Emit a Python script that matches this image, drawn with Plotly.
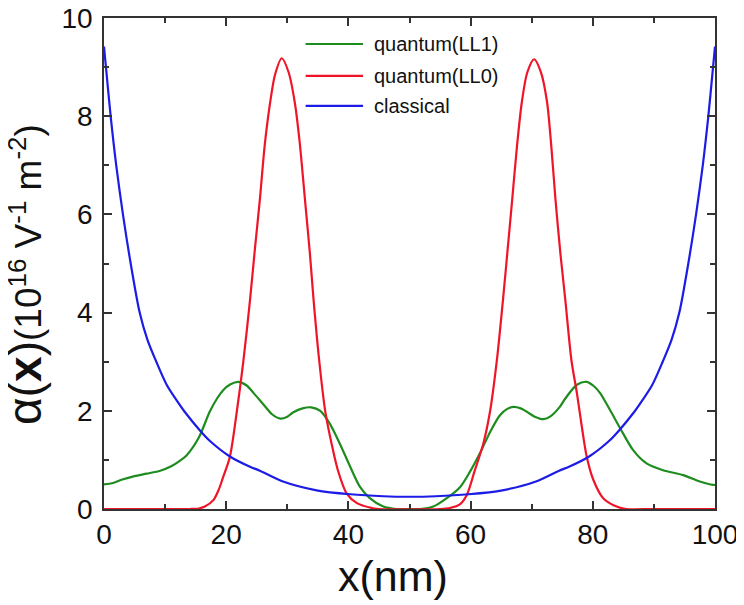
import plotly.graph_objects as go

# ---------------- data ----------------
series_names = ["quantum(LL1)", "quantum(LL0)", "classical"]
series_colors = ["#1f8c1f", "#f01428", "#1c1ce6"]

x_ll1 = [0, 1.5, 3, 5, 7, 9.2, 11, 12.4, 13.5, 15.5, 17.3, 18.5, 19.5, 20.7, 22.0,
         23.3, 24.5, 26.1, 27.5, 28.9, 30.0, 31.0, 32.5, 33.9, 35.4, 37.0, 38.6,
         40.3, 41.9, 43.5, 45.7, 47.9, 50, 51.7, 53.9, 56.1, 58.3, 59.9, 61.5,
         63.2, 64.8, 66.0, 67.0, 68.2, 69.2, 70.5, 71.9, 73.0, 74.6, 75.5, 77.4,
         79.0, 80.2, 81.2, 82.8, 84.5, 86.6, 88.8, 91.5, 94.8, 97.5, 99.7, 100]
y_ll1 = [0.50, 0.53, 0.60, 0.67, 0.72, 0.78, 0.87, 0.98, 1.09, 1.45, 1.98, 2.25, 2.42,
         2.54, 2.59, 2.52, 2.36, 2.13, 1.93, 1.84, 1.88, 1.97, 2.05, 2.07, 2.00, 1.73,
         1.33, 0.86, 0.45, 0.22, 0.05, 0.0, 0.0, 0.0, 0.05, 0.22, 0.45, 0.76, 1.13,
         1.57, 1.91, 2.04, 2.08, 2.05, 1.98, 1.88, 1.83, 1.88, 2.08, 2.25, 2.53,
         2.59, 2.50, 2.36, 2.02, 1.64, 1.20, 0.93, 0.79, 0.69, 0.56, 0.49, 0.49]

x_ll0 = [0, 10, 14, 15.5, 16.5, 17.9, 18.8, 19.5, 20.6, 21.7, 22.8, 23.9, 24.7, 25.5,
         26.3, 27.1, 28.0, 29.1, 30.2, 31.2, 32.0, 32.9, 33.7, 34.3, 35.2, 36.2,
         37.3, 38.3, 39.7, 41.4, 43.5, 45, 55, 56.6, 58.3, 59.4, 60.7, 62.1, 63.2,
         64.3, 65.3, 66.0, 66.8, 67.6, 68.4, 69.3, 70.4, 71.5, 72.5, 73.2, 73.9,
         74.7, 75.5, 76.5, 77.4, 78.2, 79.0, 80.1, 81.7, 83.9, 85.5, 90, 100]
y_ll0 = [0, 0, 0, 0.01, 0.05, 0.18, 0.40, 0.65, 1.06, 1.95, 3.00, 4.26, 5.30, 6.29,
         7.40, 8.20, 8.85, 9.18, 8.90, 8.30, 7.50, 6.29, 5.20, 4.26, 3.05, 2.00,
         1.30, 0.78, 0.32, 0.12, 0.03, 0, 0, 0.02, 0.10, 0.29, 0.79, 1.34, 2.00,
         3.03, 4.26, 5.20, 6.29, 7.40, 8.30, 8.90, 9.16, 8.90, 8.30, 7.40, 6.29,
         5.20, 4.26, 3.03, 2.36, 1.68, 1.07, 0.59, 0.22, 0.05, 0, 0, 0]

x_cl = [0, 0.38, 1.09, 2.0, 3.1, 4.37, 5.84, 7.1, 8.56, 10.3, 12.4, 13.2, 15.7, 17.3,
        20.6, 23.9, 25.5, 29.3, 34.8, 40.3, 45.7, 50,
        54.3, 59.7, 65.2, 70.7, 74.5, 76.1, 79.4, 82.7, 84.3, 86.8, 87.6, 89.7,
        91.44, 92.9, 94.16, 95.63, 96.9, 98.0, 98.91, 99.62, 100]
y_cl = [9.42, 8.92, 8.00, 7.00, 6.00, 5.00, 4.00, 3.45, 3.00, 2.52, 2.12, 1.98, 1.60,
        1.39, 1.07, 0.86, 0.78, 0.56, 0.38, 0.30, 0.26, 0.25,
        0.26, 0.30, 0.38, 0.56, 0.78, 0.86, 1.07, 1.39, 1.60, 1.98, 2.12, 2.52,
        3.00, 3.45, 4.00, 5.00, 6.00, 7.00, 8.00, 8.92, 9.42]

x_ticks = [0, 20, 40, 60, 80, 100]
y_ticks = [0, 2, 4, 6, 8, 10]

FONT = "Liberation Sans, Arial, sans-serif"
AX = "#333333"

fig = go.Figure()
for xs, ys, nm, col in [(x_ll1, y_ll1, series_names[0], series_colors[0]),
                        (x_ll0, y_ll0, series_names[1], series_colors[1]),
                        (x_cl, y_cl, series_names[2], series_colors[2])]:
    fig.add_trace(go.Scatter(x=xs, y=ys, mode="lines", name=nm,
                             line=dict(color=col, width=2.2, shape="spline", smoothing=0.8)))

axis_common = dict(showline=True, linecolor=AX, linewidth=1.5, mirror="ticks",
                   ticks="inside", ticklen=8, tickwidth=1.5, tickcolor=AX,
                   showgrid=False, zeroline=False, automargin=False,
                   ticklabeloverflow="allow",
                   tickfont=dict(family=FONT, size=28, color="#111"))
fig.update_xaxes(range=[0, 100], tickvals=x_ticks,
                 minor=dict(dtick=10, ticks="inside", ticklen=5, tickwidth=1.5, tickcolor=AX),
                 **axis_common)
fig.update_yaxes(range=[0, 10], tickvals=y_ticks, ticklabelstandoff=4,
                 minor=dict(dtick=1, ticks="inside", ticklen=5, tickwidth=1.5, tickcolor=AX),
                 **axis_common)

annotations = [
    dict(text="x(nm)", xref="paper", yref="paper", x=0.473, y=-0.137,
         xanchor="center", yanchor="middle", showarrow=False,
         font=dict(family=FONT, size=43, color="#111")),
    dict(text='<span style="font-size:48px">α</span><span style="font-size:46px">(<b>x</b>)</span>'
              '(10<sup>16</sup> V<sup>-1</sup> m<sup>-2</sup>)',
         xref="paper", yref="paper", x=-0.129, y=0.477, textangle=-90,
         xanchor="center", yanchor="middle", showarrow=False,
         font=dict(family=FONT, size=37, color="#111")),
]
shapes = []
leg_y = [0.947, 0.882, 0.821]
for i, nm in enumerate(series_names):
    shapes.append(dict(type="line", xref="paper", yref="paper",
                       x0=0.330, x1=0.424, y0=leg_y[i], y1=leg_y[i],
                       line=dict(color=series_colors[i], width=2.2)))
    annotations.append(dict(text=nm, xref="paper", yref="paper", x=0.4386, y=leg_y[i],
                            xanchor="left", yanchor="middle", showarrow=False,
                            font=dict(family=FONT, size=20, color="#111")))

# page body has an 8px margin, so the figure is 8px smaller in each direction
fig.update_layout(width=736, height=597, showlegend=False,
                  margin=dict(l=96, r=29, t=10, b=96, autoexpand=False),
                  plot_bgcolor="white", paper_bgcolor="white",
                  annotations=annotations, shapes=shapes)

fig.write_html("out.html")
